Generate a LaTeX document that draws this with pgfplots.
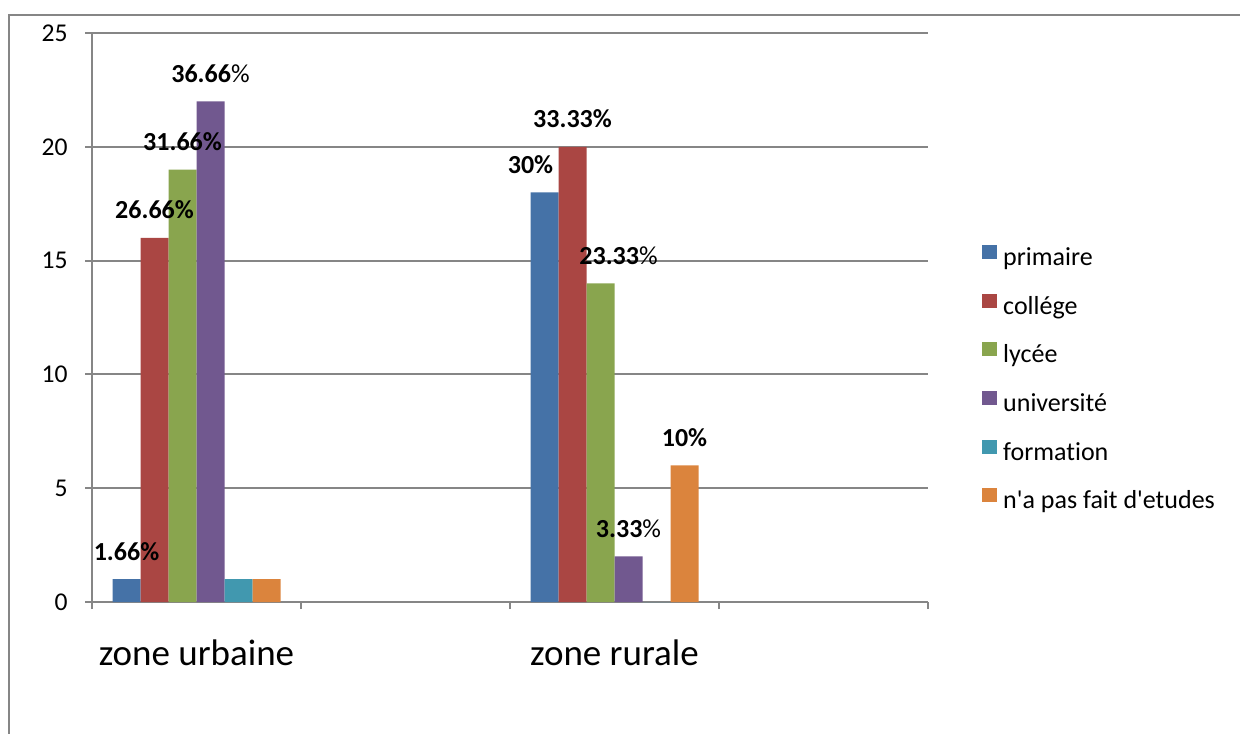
\documentclass[border=0pt]{standalone}
\usepackage{fontspec}
\setmainfont{Carlito}[Ligatures={TeX,NoCommon}]
\usepackage{pgfplots}
\pgfplotsset{compat=1.18}
\definecolor{gridgray}{RGB}{134,134,134}
\definecolor{cPrim}{HTML}{4572A7}
\definecolor{cCol}{HTML}{AA4643}
\definecolor{cLyc}{HTML}{89A54E}
\definecolor{cUni}{HTML}{71588F}
\definecolor{cFor}{HTML}{4198AF}
\definecolor{cNap}{HTML}{DB843D}
\pgfplotsset{sq/.style={legend image code/.code={\fill[##1] (0pt,0pt) rectangle (7.4pt,7pt);}}}
\begin{document}
\begin{tikzpicture}
\draw[color=gridgray, line width=1pt] (4.5pt,-10pt) -- (4.5pt,359pt) -- (640pt,359pt);
\begin{axis}[
  at={(46pt,65.5pt)}, anchor=south west,
  scale only axis, width=418pt, height=284.5pt,
  xmin=-0.5, xmax=3.5, ymin=0, ymax=25,
  ytick={0,5,10,15,20,25},
  xtick={-0.5,0.5,1.5,2.5,3.5}, xticklabels={},
  extra x ticks={0,2},
  extra x tick labels={zone urbaine, zone rurale},
  extra x tick style={major tick length=0pt, tick label style={font=\fontsize{18.5}{22}\selectfont, anchor=base, inner sep=0pt, yshift=-31.5pt}},
  axis x line*=bottom, axis y line*=left,
  axis line style={draw=gridgray, line width=1pt},
  tick style={draw=gridgray, line width=1pt},
  tick align=outside, major tick length=3.5pt,
  ymajorgrids, grid style={draw=gridgray, line width=1pt},
  yticklabel style={font=\fontsize{12.8}{15}\selectfont, anchor=east, inner sep=0pt, xshift=-8.5pt},
  /pgf/number format/assume math mode=true,
  ybar=0pt, bar width=14pt,
  nodes near coords, point meta=explicit symbolic,
  every node near coord/.append style={font=\bfseries\fontsize{13}{15.6}\selectfont, anchor=south, inner sep=0pt, yshift=9.2pt, text=black},
  legend style={draw=none, fill=none, at={(1.0646,0.3902)}, anchor=west, inner sep=0pt, row sep=11.1pt, column sep=3pt, font=\fontsize{13}{15.6}\selectfont, nodes={inner sep=0pt, text height=9.5pt, text depth=3pt}},
  legend cell align=left,
]
\addplot[fill=cPrim, draw=none, sq] coordinates {(0,1) [\textbf{1.66\%}] (2,18) [\hspace*{-14pt}\textbf{30\%}]};
\addplot[fill=cCol, draw=none, sq] coordinates {(0,16) [\textbf{26.66\%}] (2,20) [\textbf{33.33\%}]};
\addplot[fill=cLyc, draw=none, sq] coordinates {(0,19) [\textbf{31.66\%}] (2,14) [\textbf{23.33}\mdseries\%\hspace*{-18pt}]};
\addplot[fill=cUni, draw=none, sq] coordinates {(0,22) [\textbf{36.66}\mdseries\%] (2,2) [\textbf{3.33}\mdseries\%]};
\addplot[fill=cFor, draw=none, sq] coordinates {(0,1) [{}] (2,0) [{}]};
\addplot[fill=cNap, draw=none, sq] coordinates {(0,1) [{}] (2,6) [\textbf{10\%}]};
\legend{primaire, collége, lycée, université, formation, n\textquotesingle a pas fait d\textquotesingle etudes}
\end{axis}
\pgfresetboundingbox
\useasboundingbox (0,0) rectangle (620pt,366.5pt);
\end{tikzpicture}
\end{document}
